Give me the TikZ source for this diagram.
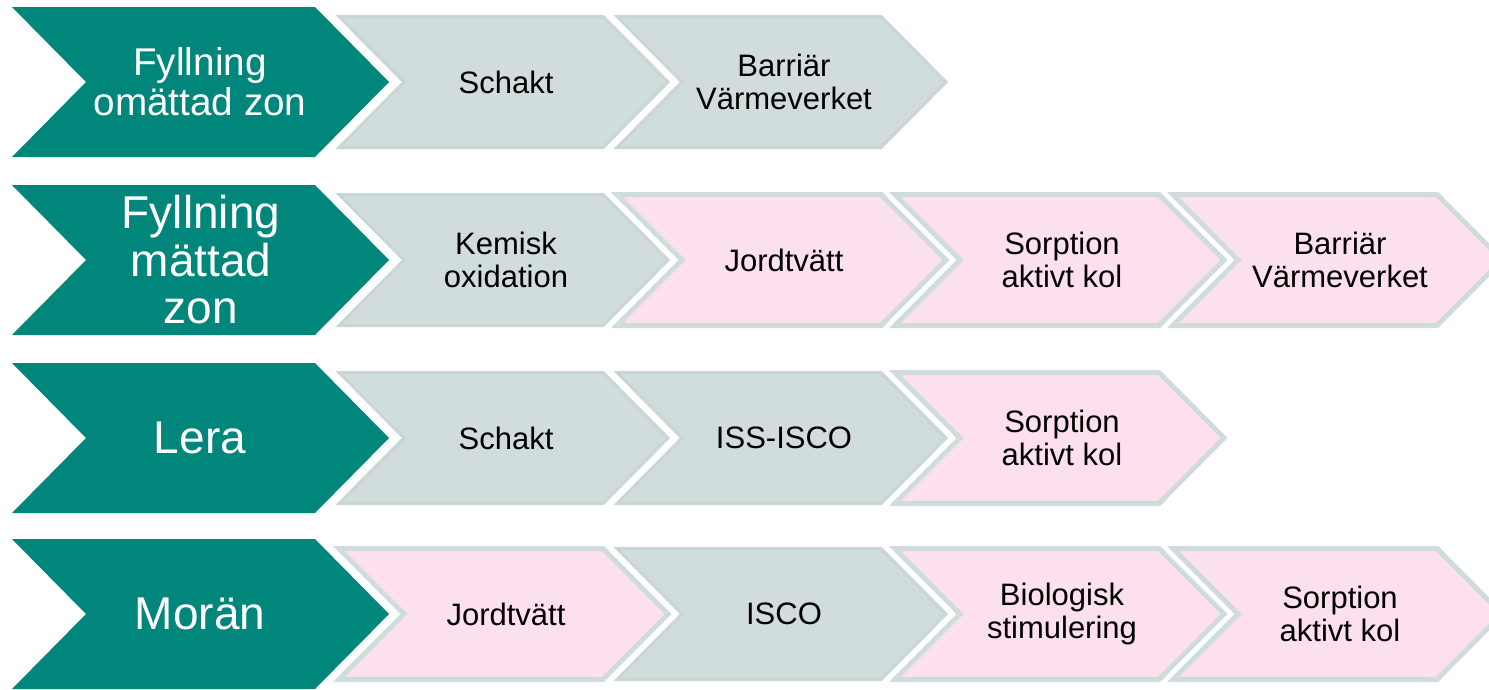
\documentclass[tikz,border=0pt]{standalone}
\usepackage{fontspec}
\setmainfont{Liberation Sans}
\definecolor{tealc}{RGB}{0,134,122}
\definecolor{greyfill}{RGB}{208,221,220}
\definecolor{greyline}{RGB}{200,214,213}
\definecolor{pinkfill}{RGB}{253,224,238}
\definecolor{pinkline}{RGB}{207,220,219}
\tikzset{
  tealchev/.style={fill=tealc},
  greychev/.style={fill=greyfill, draw=greyline, line width=3pt, line join=miter},
  pinkchev/.style={fill=pinkfill, draw=pinkline, line width=5pt, line join=miter},
  headtxt/.style={text=white, align=center, inner sep=0pt, font=\fontsize{46}{47.5}\selectfont},
  steptxt/.style={text=black, align=center, inner sep=0pt, font=\fontsize{31}{33}\selectfont},
}
% #1 style, #2 left x, #3 centre y, #4 width, #5 half height, #6 depth
\newcommand\mychev[6]{%
  \path[#1] (#2,#3-#5) -- (#2+#4-#6,#3-#5) -- (#2+#4,#3) -- (#2+#4-#6,#3+#5)
    -- (#2,#3+#5) -- (#2+#6,#3) -- cycle;}
\newcommand\headchev[1]{\mychev{tealchev}{12}{#1}{377}{75}{74}}
\newcommand\stepchev[3]{\mychev{#1}{#2+2}{#3}{329}{65.5}{65}}
\begin{document}
\begin{tikzpicture}[x=1pt,y=-1pt]
\useasboundingbox (0,0) rectangle (1489,689);
\clip (0,0) rectangle (1489,689);
% Row 1
\headchev{82}
\stepchev{greychev}{337}{82}
\stepchev{greychev}{615}{82}
\node[headtxt, font=\fontsize{38.7}{40}\selectfont] (h1) at (200,82) {Fyllning\\omättad zon};
\node[steptxt] (r1a) at (506,82) {Schakt};
\node[steptxt] (r1b) at (784,82) {Barriär\\Värmeverket};
% Row 2
\headchev{260}
\stepchev{greychev}{337}{260}
\stepchev{pinkchev}{615}{260}
\stepchev{pinkchev}{893}{260}
\stepchev{pinkchev}{1171}{260}
\node[headtxt] (h2) at (201,260) {Fyllning\\mättad\\zon};
\node[steptxt] (r2a) at (506,260) {Kemisk\\oxidation};
\node[steptxt] (r2b) at (784,260) {Jordtvätt};
\node[steptxt] (r2c) at (1062,260) {Sorption\\aktivt kol};
\node[steptxt] (r2d) at (1340,260) {Barriär\\Värmeverket};
% Row 3
\headchev{438}
\stepchev{greychev}{337}{438}
\stepchev{greychev}{615}{438}
\stepchev{pinkchev}{893}{438}
\node[headtxt] (h3) at (200,438) {Lera};
\node[steptxt] (r3a) at (506,438) {Schakt};
\node[steptxt] (r3b) at (784,438) {ISS-ISCO};
\node[steptxt] (r3c) at (1062,438) {Sorption\\aktivt kol};
% Row 4
\headchev{614}
\stepchev{pinkchev}{337}{614}
\stepchev{greychev}{615}{614}
\stepchev{pinkchev}{893}{614}
\stepchev{pinkchev}{1171}{614}
\node[headtxt] (h4) at (200,614) {Morän};
\node[steptxt] (r4a) at (506,614) {Jordtvätt};
\node[steptxt] (r4b) at (784,614) {ISCO};
\node[steptxt] (r4c) at (1062,614) {Biologisk\\stimulering};
\node[steptxt] (r4d) at (1340,614) {Sorption\\aktivt kol};
\end{tikzpicture}
\end{document}
